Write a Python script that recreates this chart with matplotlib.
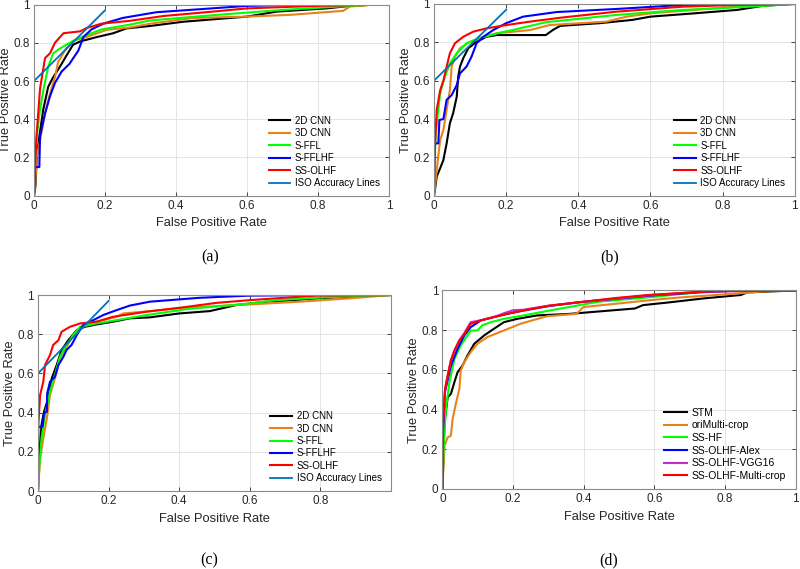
import matplotlib
matplotlib.use("Agg")
import matplotlib.pyplot as plt

# ---- data (fpr, tpr) ----
iso_fpr = [0, 0.2]
iso_tpr = [0.6, 0.97]

# (a)
a_2d_fpr = [0, 0.004, 0.0075, 0.015, 0.026, 0.04, 0.054, 0.073, 0.092, 0.11, 0.13, 0.177, 0.223, 0.26, 0.327, 0.42, 0.6, 0.683, 0.824, 0.89, 0.96, 1.0]
a_2d_tpr = [0, 0.05, 0.19, 0.31, 0.45, 0.57, 0.62, 0.675, 0.735, 0.79, 0.807, 0.83, 0.85, 0.875, 0.888, 0.91, 0.937, 0.963, 0.98, 0.993, 1.0, 1.0]
a_3d_fpr = [0, 0.004, 0.0075, 0.017, 0.031, 0.045, 0.059, 0.068, 0.087, 0.11, 0.148, 0.205, 0.27, 0.327, 0.449, 0.6, 0.72, 0.87, 0.89, 0.96, 1.0]
a_3d_tpr = [0, 0.08, 0.2, 0.29, 0.43, 0.535, 0.62, 0.70, 0.76, 0.81, 0.83, 0.868, 0.88, 0.90, 0.93, 0.937, 0.946, 0.967, 0.99, 1.0, 1.0]
a_sffl_fpr = [0, 0.002, 0.0075, 0.017, 0.026, 0.04, 0.054, 0.073, 0.11, 0.148, 0.19, 0.27, 0.327, 0.515, 0.70, 0.89, 0.96, 1.0]
a_sffl_tpr = [0, 0.15, 0.31, 0.45, 0.55, 0.675, 0.745, 0.77, 0.81, 0.84, 0.87, 0.895, 0.917, 0.946, 0.972, 0.993, 1.0, 1.0]
a_sfflhf_fpr = [0, 0.003, 0.015, 0.017, 0.031, 0.045, 0.059, 0.078, 0.1, 0.125, 0.139, 0.162, 0.195, 0.25, 0.345, 0.47, 0.6, 0.78, 1.0]
a_sfflhf_tpr = [0, 0.15, 0.15, 0.31, 0.43, 0.52, 0.59, 0.65, 0.69, 0.76, 0.83, 0.87, 0.90, 0.93, 0.96, 0.976, 0.993, 1.0, 1.0]
a_ssolhf_fpr = [0, 0.003, 0.007, 0.017, 0.031, 0.045, 0.059, 0.083, 0.13, 0.148, 0.19, 0.27, 0.364, 0.515, 0.6, 0.796, 1.0]
a_ssolhf_tpr = [0, 0.15, 0.31, 0.56, 0.72, 0.745, 0.80, 0.85, 0.86, 0.877, 0.90, 0.915, 0.94, 0.965, 0.98, 0.993, 1.0]

# (b)
b_2d_fpr = [0, 0.004, 0.0075, 0.017, 0.026, 0.035, 0.044, 0.053, 0.063, 0.067, 0.072, 0.081, 0.095, 0.118, 0.146, 0.174, 0.31, 0.33, 0.35, 0.46, 0.55, 0.6, 0.72, 0.84, 0.91, 0.99, 1.0]
b_2d_tpr = [0, 0.05, 0.1, 0.143, 0.186, 0.273, 0.378, 0.43, 0.516, 0.62, 0.673, 0.717, 0.769, 0.803, 0.829, 0.838, 0.838, 0.865, 0.886, 0.9, 0.917, 0.934, 0.951, 0.969, 0.99, 1.0, 1.0]
b_3d_fpr = [0, 0.003, 0.0075, 0.017, 0.026, 0.035, 0.044, 0.049, 0.058, 0.072, 0.1, 0.137, 0.174, 0.266, 0.32, 0.478, 0.534, 0.6, 0.72, 0.84, 1.0]
b_3d_tpr = [0, 0.05, 0.134, 0.29, 0.343, 0.447, 0.55, 0.673, 0.725, 0.769, 0.803, 0.829, 0.847, 0.864, 0.89, 0.908, 0.934, 0.951, 0.969, 0.986, 1.0]
b_sffl_fpr = [0, 0.002, 0.005, 0.012, 0.017, 0.03, 0.044, 0.063, 0.09, 0.127, 0.174, 0.22, 0.31, 0.506, 0.69, 0.875, 1.0]
b_sffl_tpr = [0, 0.2, 0.33, 0.447, 0.534, 0.62, 0.69, 0.743, 0.795, 0.821, 0.847, 0.865, 0.905, 0.943, 0.969, 0.986, 1.0]
b_sfflhf_fpr = [0, 0, 0.012, 0.015, 0.026, 0.035, 0.049, 0.063, 0.072, 0.09, 0.104, 0.118, 0.137, 0.164, 0.2, 0.247, 0.34, 0.506, 0.69, 1.0]
b_sfflhf_tpr = [0, 0.273, 0.273, 0.395, 0.4, 0.5, 0.525, 0.577, 0.638, 0.673, 0.725, 0.795, 0.829, 0.864, 0.9, 0.934, 0.958, 0.974, 0.995, 1.0]
b_ssolhf_fpr = [0, 0.003, 0.0075, 0.017, 0.026, 0.035, 0.044, 0.058, 0.081, 0.109, 0.146, 0.2, 0.266, 0.358, 0.506, 0.69, 0.875, 1.0]
b_ssolhf_tpr = [0, 0.27, 0.447, 0.55, 0.60, 0.673, 0.743, 0.795, 0.829, 0.856, 0.873, 0.89, 0.908, 0.93, 0.96, 0.986, 0.997, 1.0]

# (c)
c_2d_fpr = [0, 0.004, 0.01, 0.017, 0.029, 0.039, 0.053, 0.067, 0.086, 0.11, 0.133, 0.166, 0.213, 0.26, 0.317, 0.40, 0.487, 0.562, 0.648, 0.723, 0.789, 0.884, 1.0]
c_2d_tpr = [0, 0.2, 0.337, 0.405, 0.473, 0.575, 0.643, 0.72, 0.77, 0.821, 0.838, 0.85, 0.864, 0.881, 0.886, 0.906, 0.918, 0.949, 0.966, 0.974, 0.983, 0.991, 1.0]
c_3d_fpr = [0, 0.006, 0.015, 0.025, 0.034, 0.048, 0.062, 0.081, 0.1, 0.128, 0.166, 0.223, 0.242, 0.317, 0.412, 0.6, 0.742, 0.884, 1.0]
c_3d_tpr = [0, 0.167, 0.269, 0.37, 0.49, 0.575, 0.677, 0.736, 0.796, 0.838, 0.864, 0.889, 0.906, 0.918, 0.935, 0.952, 0.966, 0.983, 1.0]
c_sffl_fpr = [0, 0.004, 0.01, 0.02, 0.034, 0.048, 0.062, 0.081, 0.1, 0.119, 0.166, 0.223, 0.308, 0.43, 0.6, 0.676, 0.789, 0.931, 1.0]
c_sffl_tpr = [0, 0.133, 0.269, 0.388, 0.507, 0.592, 0.685, 0.745, 0.796, 0.838, 0.855, 0.872, 0.898, 0.93, 0.957, 0.974, 0.986, 0.997, 1.0]
c_sfflhf_fpr = [0, 0, 0.013, 0.017, 0.025, 0.026, 0.034, 0.048, 0.058, 0.072, 0.081, 0.095, 0.11, 0.128, 0.157, 0.185, 0.223, 0.26, 0.317, 0.459, 0.6, 0.82, 1.0]
c_sfflhf_tpr = [0, 0.328, 0.328, 0.396, 0.405, 0.498, 0.558, 0.583, 0.643, 0.685, 0.72, 0.745, 0.796, 0.847, 0.872, 0.898, 0.923, 0.946, 0.966, 0.986, 0.997, 1.0, 1.0]
c_ssolhf_fpr = [0, 0.001, 0.006, 0.015, 0.02, 0.034, 0.043, 0.058, 0.067, 0.091, 0.119, 0.166, 0.213, 0.308, 0.402, 0.506, 0.6, 0.789, 1.0]
c_ssolhf_tpr = [0, 0.337, 0.49, 0.558, 0.643, 0.694, 0.745, 0.77, 0.813, 0.838, 0.855, 0.864, 0.889, 0.915, 0.935, 0.96, 0.974, 0.997, 1.0]

# (d)
d_stm_fpr = [0, 0.006, 0.015, 0.024, 0.034, 0.043, 0.057, 0.071, 0.09, 0.118, 0.146, 0.174, 0.212, 0.268, 0.361, 0.47, 0.545, 0.568, 0.638, 0.741, 0.845, 0.863, 1.0]
d_stm_tpr = [0, 0.336, 0.462, 0.479, 0.538, 0.588, 0.622, 0.672, 0.731, 0.773, 0.807, 0.84, 0.857, 0.874, 0.882, 0.898, 0.909, 0.926, 0.939, 0.96, 0.977, 0.99, 1.0]
d_ori_fpr = [0, 0.006, 0.015, 0.024, 0.029, 0.038, 0.048, 0.052, 0.062, 0.08, 0.099, 0.127, 0.174, 0.221, 0.296, 0.38, 0.399, 0.6, 0.676, 0.816, 0.91, 1.0]
d_ori_tpr = [0, 0.218, 0.26, 0.269, 0.353, 0.429, 0.504, 0.597, 0.639, 0.689, 0.731, 0.765, 0.798, 0.832, 0.87, 0.882, 0.916, 0.953, 0.965, 0.982, 0.995, 1.0]
d_sshf_fpr = [0, 0.004, 0.01, 0.02, 0.034, 0.052, 0.071, 0.08, 0.099, 0.113, 0.137, 0.174, 0.23, 0.301, 0.442, 0.582, 0.723, 0.77, 1.0]
d_sshf_tpr = [0, 0.235, 0.403, 0.538, 0.655, 0.723, 0.773, 0.798, 0.798, 0.824, 0.84, 0.857, 0.874, 0.898, 0.943, 0.965, 0.99, 1.0, 1.0]
d_alex_fpr = [0, 0.002, 0.0075, 0.024, 0.043, 0.062, 0.08, 0.109, 0.146, 0.184, 0.23, 0.301, 0.39, 0.582, 0.723, 0.85, 1.0]
d_alex_tpr = [0, 0.3, 0.49, 0.62, 0.706, 0.773, 0.815, 0.849, 0.866, 0.882, 0.899, 0.921, 0.941, 0.973, 0.99, 1.0, 1.0]
d_vgg_fpr = [0, 0.002, 0.0075, 0.015, 0.024, 0.034, 0.048, 0.062, 0.08, 0.109, 0.146, 0.174, 0.2, 0.23, 0.301, 0.39, 0.582, 0.75, 1.0]
d_vgg_tpr = [0, 0.34, 0.5, 0.571, 0.647, 0.697, 0.748, 0.785, 0.84, 0.85, 0.866, 0.885, 0.9, 0.903, 0.923, 0.941, 0.975, 0.995, 1.0]
d_multi_fpr = [0, 0.002, 0.0075, 0.015, 0.024, 0.034, 0.048, 0.062, 0.08, 0.109, 0.146, 0.184, 0.23, 0.301, 0.39, 0.492, 0.582, 0.75, 1.0]
d_multi_tpr = [0, 0.336, 0.504, 0.571, 0.647, 0.697, 0.748, 0.78, 0.832, 0.849, 0.866, 0.882, 0.899, 0.923, 0.941, 0.962, 0.977, 0.995, 1.0]

labels_abc = ["2D CNN", "3D CNN", "S-FFL", "S-FFLHF", "SS-OLHF", "ISO Accuracy Lines"]
labels_d = ["STM", "oriMulti-crop", "SS-HF", "SS-OLHF-Alex", "SS-OLHF-VGG16", "SS-OLHF-Multi-crop"]
colors_abc = ["black", "#E8821A", "#00FF00", "#0000FF", "#FF0000", "#0072BD"]
colors_d = ["black", "#E8821A", "#00FF00", "#0000FF", "#C030C0", "#FF0000"]

plt.rcParams["font.family"] = ["Liberation Sans", "DejaVu Sans"]

fig = plt.figure(figsize=(8, 5.69), dpi=100)


def style(ax, last_label="1"):
    ax.set_xlim(0, 1)
    ax.set_ylim(0, 1)
    ax.set_xticks([0, 0.2, 0.4, 0.6, 0.8, 1])
    ax.set_xticklabels(["0", "0.2", "0.4", "0.6", "0.8", last_label])
    ax.set_yticks([0, 0.2, 0.4, 0.6, 0.8, 1])
    ax.set_yticklabels(["0", "0.2", "0.4", "0.6", "0.8", "1"])
    ax.grid(True, color="#e4e4e4", linewidth=0.7)
    ax.set_axisbelow(True)
    ax.tick_params(direction="in", length=3, width=0.6, labelsize=8.5,
                   colors="#262626", top=True, right=True, pad=3)
    for s in ax.spines.values():
        s.set_color("#8a8a8a")
        s.set_linewidth(0.8)
    ax.set_xlabel("False Positive Rate", fontsize=9.3, color="#262626", labelpad=4)
    ax.set_ylabel("True Positive Rate", fontsize=9.3, color="#262626", labelpad=1)


def panel(ax, curves, labels, colors, iso=True, fs=7):
    for (x, y), lab, col in zip(curves, labels, colors):
        ax.plot(x, y, color=col, linewidth=1.5, label=lab)
    if iso:
        ax.plot(iso_fpr, iso_tpr, color=colors[-1], linewidth=1.3, label=labels[-1])
    ax.legend(loc="lower right", bbox_to_anchor=(0.985, 0.02), frameon=False,
              fontsize=fs, handlelength=2.2, handletextpad=0.5, labelspacing=0.25,
              borderaxespad=0)


ax_a = fig.add_axes([0.0425, 0.656, 0.444, 0.336])
style(ax_a)
panel(ax_a, [(a_2d_fpr, a_2d_tpr), (a_3d_fpr, a_3d_tpr), (a_sffl_fpr, a_sffl_tpr),
             (a_sfflhf_fpr, a_sfflhf_tpr), (a_ssolhf_fpr, a_ssolhf_tpr)],
      labels_abc, colors_abc)

ax_b = fig.add_axes([0.5425, 0.656, 0.451, 0.337])
style(ax_b)
panel(ax_b, [(b_2d_fpr, b_2d_tpr), (b_3d_fpr, b_3d_tpr), (b_sffl_fpr, b_sffl_tpr),
             (b_sfflhf_fpr, b_sfflhf_tpr), (b_ssolhf_fpr, b_ssolhf_tpr)],
      labels_abc, colors_abc)

ax_c = fig.add_axes([0.0475, 0.137, 0.441, 0.3445])
style(ax_c, last_label="")
panel(ax_c, [(c_2d_fpr, c_2d_tpr), (c_3d_fpr, c_3d_tpr), (c_sffl_fpr, c_sffl_tpr),
             (c_sfflhf_fpr, c_sfflhf_tpr), (c_ssolhf_fpr, c_ssolhf_tpr)],
      labels_abc, colors_abc)

ax_d = fig.add_axes([0.553, 0.1406, 0.4415, 0.349])
style(ax_d)
panel(ax_d, [(d_stm_fpr, d_stm_tpr), (d_ori_fpr, d_ori_tpr), (d_sshf_fpr, d_sshf_tpr),
             (d_alex_fpr, d_alex_tpr), (d_vgg_fpr, d_vgg_tpr), (d_multi_fpr, d_multi_tpr)],
      labels_d, colors_d, iso=False, fs=7.5)

cap = dict(fontsize=11.5, ha="center", va="center", family=["Liberation Serif", "DejaVu Serif"])
fig.text(210 / 800, 1 - 257 / 569, "(a)", **cap)
fig.text(610 / 800, 1 - 257 / 569, "(b)", **cap)
fig.text(209 / 800, 1 - 560 / 569, "(c)", **cap)
fig.text(609 / 800, 1 - 560 / 569, "(d)", **cap)

fig.savefig("out.png", dpi=100)
